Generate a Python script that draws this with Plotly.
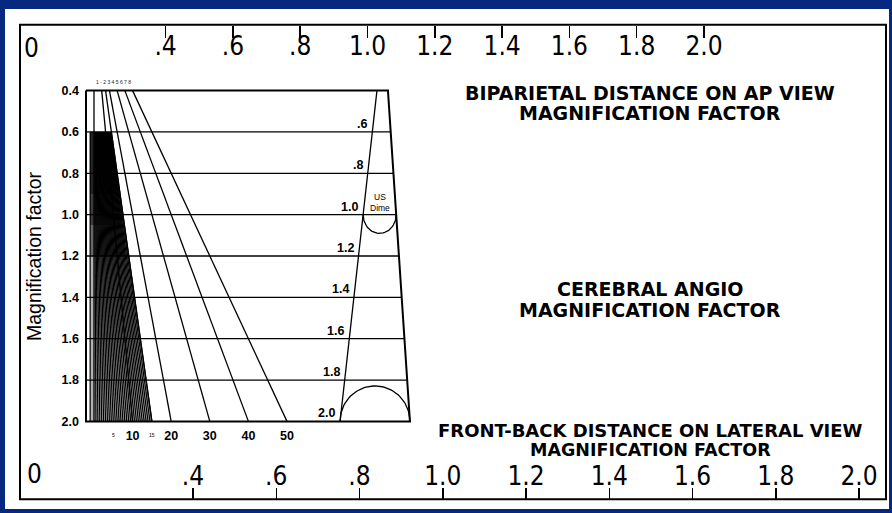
import math
import plotly.graph_objects as go

W, H = 892, 513

# ---------------- data ----------------
magnification_levels = [0.4, 0.6, 0.8, 1.0, 1.2, 1.4, 1.6, 1.8, 2.0]
magnification_labels = ["0.4", "0.6", "0.8", "1.0", "1.2", "1.4", "1.6", "1.8", "2.0"]
inner_level_labels = ["", ".6", ".8", "1.0", "1.2", "1.4", "1.6", "1.8", "2.0"]

long_fan_distances = [0, 10, 15, 20, 30, 40, 50]
dense_fan_distances = [0.5, 1, 1.5, 2, 2.5, 3, 3.5, 4, 4.5, 5, 5.5, 6, 6.5, 7, 7.5,
                       8, 8.5, 9, 9.5, 10, 10.5, 11, 11.5, 12, 12.5, 13, 13.5, 14, 14.5, 15]
dense_start_magnification = 0.6
solid_shade_ends = [0.9, 1.05, 1.2]
distance_tick_values = [10, 20, 30, 40, 50]
minor_distance_ticks = [5, 15]

scale_values = [0.4, 0.6, 0.8, 1.0, 1.2, 1.4, 1.6, 1.8, 2.0]
scale_labels = [".4", ".6", ".8", "1.0", "1.2", "1.4", "1.6", "1.8", "2.0"]

# nomogram outline (fan units = distance x magnification)
panel_left = -4.15
hatch_left = -2.0
edge_m = [0.4, 2.0]
right_edge_u = [152.3, 163.7]
coin_line_u = [146.6, 127.5]
dime_magnification = 1.0

NAVY = "#06297f"
NUM_FONT = "Liberation Sans Narrow, Arial Narrow, DejaVu Sans Condensed, Liberation Sans, Arial, sans-serif"
SANS = "Liberation Sans, Arial, sans-serif"
HEAD = "DejaVu Sans, Verdana, sans-serif"


def lerp_edge(vals, m):
    t = (m - edge_m[0]) / (edge_m[1] - edge_m[0])
    return vals[0] + t * (vals[1] - vals[0])


fig = go.Figure()

m_dense0, m_end = dense_start_magnification, magnification_levels[-1]
d_max = dense_fan_distances[-1]

# grey tone of the dense hatch band
fig.add_trace(go.Scatter(
    x=[hatch_left, d_max * m_dense0, d_max * m_end, hatch_left, hatch_left],
    y=[m_dense0, m_dense0, m_end, m_end, m_dense0], mode="lines", fill="toself",
    fillcolor="rgba(0,0,0,0.30)", line=dict(width=0), hoverinfo="skip"))
# darker upper part of the band, built up in steps
for m_s in solid_shade_ends:
    fig.add_trace(go.Scatter(
        x=[hatch_left, d_max * m_dense0, d_max * m_s * 0.93, hatch_left, hatch_left],
        y=[m_dense0, m_dense0, m_s, m_s, m_dense0], mode="lines", fill="toself",
        fillcolor="rgba(0,0,0,0.42)", line=dict(width=0), hoverinfo="skip"))

# fan lines (long)
xs, ys = [], []
for d in long_fan_distances:
    xs += [d * magnification_levels[0], d * m_end, None]
    ys += [magnification_levels[0], m_end, None]
fig.add_trace(go.Scatter(x=xs, y=ys, mode="lines", line=dict(color="black", width=1.3),
                         hoverinfo="skip"))

# dense hatch
xs, ys = [hatch_left, hatch_left, None], [m_dense0, m_end, None]
for d in dense_fan_distances:
    xs += [d * m_dense0, d * m_end, None]
    ys += [m_dense0, m_end, None]
fig.add_trace(go.Scatter(x=xs, y=ys, mode="lines", line=dict(color="black", width=1.2),
                         hoverinfo="skip"))

# horizontal magnification lines
xs, ys = [], []
for m in magnification_levels[1:-1]:
    xs += [panel_left, lerp_edge(right_edge_u, m), None]
    ys += [m, m, None]
fig.add_trace(go.Scatter(x=xs, y=ys, mode="lines", line=dict(color="black", width=1.3),
                         hoverinfo="skip"))

# panel outline
m0, m1 = magnification_levels[0], magnification_levels[-1]
fig.add_trace(go.Scatter(
    x=[panel_left, panel_left, right_edge_u[1], right_edge_u[0], panel_left],
    y=[m0, m1, m1, m0, m0], mode="lines", line=dict(color="black", width=2),
    hoverinfo="skip"))

# coin slant line
fig.add_trace(go.Scatter(x=coin_line_u, y=edge_m, mode="lines",
                         line=dict(color="black", width=1.3), hoverinfo="skip"))

# semicircles (dime at m=1.0 below the line, big one at m=2.0 above the line)
PX_PER_U = 1.93
PX_PER_M = 210.0


def semicircle(m, down, squash):
    a = lerp_edge(coin_line_u, m)
    b = lerp_edge(right_edge_u, m)
    c = (a + b) / 2
    r = (b - a) / 2
    rm = r * PX_PER_U / PX_PER_M * squash
    px, py = [], []
    for i in range(0, 61):
        t = math.pi * i / 60
        px.append(c - r * math.cos(t))
        py.append(m + (rm if down else -rm) * math.sin(t))
    return px, py, c


dx, dy, dime_c = semicircle(dime_magnification, True, 1.15)
fig.add_trace(go.Scatter(x=dx, y=dy, mode="lines", line=dict(color="black", width=1.3),
                         hoverinfo="skip"))
bx, by, _ = semicircle(magnification_levels[-1], False, 1.03)
fig.add_trace(go.Scatter(x=bx, y=by, mode="lines", line=dict(color="black", width=1.3),
                         hoverinfo="skip"))

# dummy traces so the outer scales are drawn
fig.add_trace(go.Scatter(x=[1.0], y=[0.5], xaxis="x2", yaxis="y3", mode="markers",
                         marker=dict(opacity=0), hoverinfo="skip"))
fig.add_trace(go.Scatter(x=[1.0], y=[0.5], xaxis="x3", yaxis="y3", mode="markers",
                         marker=dict(opacity=0), hoverinfo="skip"))

# ---------------- annotations ----------------
ann = []
for m, lab in zip(magnification_levels, inner_level_labels):
    if not lab:
        continue
    ann.append(dict(x=lerp_edge(coin_line_u, m), y=m, xref="x", yref="y", text=lab,
                    showarrow=False, xanchor="right", yanchor="bottom", xshift=-3, yshift=-1,
                    font=dict(family=SANS, size=12.5, color="black", weight="bold")))

ann.append(dict(x=dime_c, y=dime_magnification, xref="x", yref="y", text="US<br>Dime",
                showarrow=False, xanchor="center", yanchor="bottom", yshift=0,
                font=dict(family=SANS, size=8.5, color="black")))

for d in minor_distance_ticks:
    ann.append(dict(x=d * m_end, y=m_end, xref="x", yref="y",
                    text=str(d), showarrow=False, xanchor="center", yanchor="top", yshift=-9,
                    font=dict(family=SANS, size=5, color="black")))

ann.append(dict(x=0, y=magnification_levels[0], xref="x", yref="y",
                text="1 - 2 3 4 5 6 7 8", showarrow=False, xanchor="left", yanchor="bottom",
                yshift=4, font=dict(family=SANS, size=5, color="#222")))

ann.append(dict(x=34 / W, y=0.5, xref="paper", yref="y domain", text="Magnification factor",
                textangle=-90, showarrow=False, xanchor="center", yanchor="middle",
                font=dict(family=SANS, size=19.5, color="black")))

ann.append(dict(x=0, y=1 - 45 / H, xref="x2", yref="paper", text="0", showarrow=False,
                xanchor="center", yanchor="middle",
                font=dict(family=NUM_FONT, size=26, color="black")))
ann.append(dict(x=0, y=1 - 477 / H, xref="x3", yref="paper", text="0", showarrow=False,
                xanchor="center", yanchor="middle", xshift=8,
                font=dict(family=NUM_FONT, size=26, color="black")))

headings = [
    ("BIPARIETAL DISTANCE ON AP VIEW", 90, 19),
    ("MAGNIFICATION FACTOR", 111, 19),
    ("CEREBRAL ANGIO", 290, 19),
    ("MAGNIFICATION FACTOR", 311, 19),
    ("FRONT-BACK DISTANCE ON LATERAL VIEW", 433, 18),
    ("MAGNIFICATION FACTOR", 453, 17.5),
]
for txt, ypx, fs in headings:
    ann.append(dict(x=650 / W, y=1 - ypx / H, xref="paper", yref="paper", text=txt,
                    showarrow=False, xanchor="center", yanchor="middle",
                    font=dict(family=HEAD, size=fs, color="black", weight="bold")))

shapes = [
    dict(type="rect", xref="paper", yref="paper", x0=5 / W, x1=889 / W, y0=0, y1=1 - 5 / H,
         fillcolor="white", line=dict(width=0), layer="below"),
    dict(type="rect", xref="paper", yref="paper", x0=20 / W, x1=886 / W, y0=10 / H, y1=1 - 21 / H,
         fillcolor="rgba(0,0,0,0)", line=dict(color="black", width=2)),
]

u_lo, u_hi = (83 - 94) / PX_PER_U, (414 - 94) / PX_PER_U
m_top, m_bot = 0.4 + (85 - 88) / PX_PER_M, 0.4 + (427 - 88) / PX_PER_M

fig.update_layout(
    width=W, height=H, margin=dict(l=0, r=0, t=0, b=0),
    paper_bgcolor=NAVY, plot_bgcolor="rgba(0,0,0,0)", showlegend=False,
    shapes=shapes, annotations=ann,
    xaxis=dict(domain=[83 / W, 414 / W], range=[u_lo, u_hi], anchor="y",
               tickmode="array", tickvals=[2 * d for d in distance_tick_values],
               ticktext=[str(d) for d in distance_tick_values], ticks="",
               showgrid=False, zeroline=False, showline=False, ticklabelstandoff=2,
               tickfont=dict(family=SANS, size=12.5, color="black", weight="bold")),
    yaxis=dict(domain=[1 - 427 / H, 1 - 85 / H], range=[m_bot, m_top], anchor="x",
               tickmode="array", tickvals=magnification_levels, ticktext=magnification_labels,
               ticks="", showgrid=False, zeroline=False, showline=False, ticklabelstandoff=3,
               tickfont=dict(family=SANS, size=12.5, color="black", weight="bold")),
    xaxis2=dict(domain=[0, 1], range=[-31 / 336.5, (W - 31) / 336.5], anchor="free",
                position=1 - 21 / H, side="top", ticks="inside", ticklen=12, tickwidth=1.5,
                tickcolor="black", ticklabelposition="inside", ticklabelstandoff=1,
                tickmode="array",
                tickvals=scale_values, ticktext=scale_labels, showgrid=False, zeroline=False,
                showline=False, tickfont=dict(family=NUM_FONT, size=26, color="black")),
    xaxis3=dict(domain=[0, 1], range=[-26.5 / 416.25, (W - 26.5) / 416.25], anchor="free",
                position=10 / H, side="bottom", ticks="inside", ticklen=11, tickwidth=1.5,
                tickcolor="black", ticklabelposition="inside", tickmode="array",
                tickvals=scale_values, ticktext=scale_labels, showgrid=False, zeroline=False,
                showline=False, tickfont=dict(family=NUM_FONT, size=26, color="black")),
    yaxis3=dict(domain=[0, 1], range=[0, 1], visible=False, anchor="x2"),
)

fig.write_html("out.html", config={"displayModeBar": False, "staticPlot": True},
               post_script="document.body.style.margin='0';document.body.style.overflow='hidden';")
